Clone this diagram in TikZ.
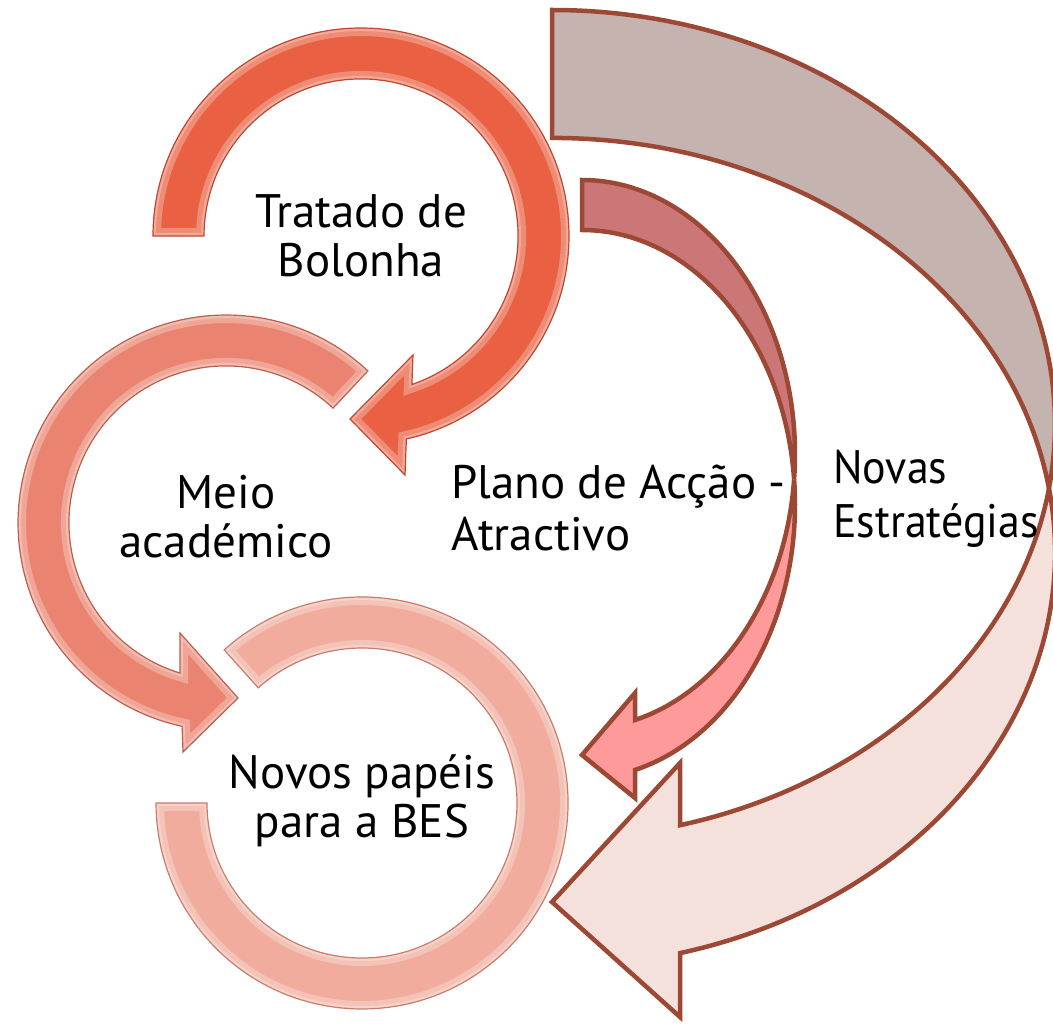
\documentclass[tikz,border=0pt]{standalone}
\usepackage{fontspec}
\setmainfont{PT Sans}
\definecolor{cA}{RGB}{234,96,66}
\definecolor{cAd}{RGB}{190,72,48}
\definecolor{cB}{RGB}{234,132,112}
\definecolor{cBd}{RGB}{190,95,78}
\definecolor{cC}{RGB}{241,172,157}
\definecolor{cCd}{RGB}{200,125,110}
\definecolor{edgec}{RGB}{157,72,52}
\definecolor{bigback}{RGB}{196,179,175}
\definecolor{bigfront}{RGB}{245,225,220}
\definecolor{medback}{RGB}{203,119,119}
\definecolor{medfront}{RGB}{255,154,154}
\tikzset{
  lbl/.style={inner sep=0pt, font=\fontsize{47}{49}\selectfont, text=black},
  flat/.style={draw=edgec, line width=4.5, line join=miter},
}
\newcommand\bevelshape[3]{% path, base colour, dark colour
  \fill[#2] #1;
  \begin{scope}
    \clip #1;
    \draw[white, opacity=.28, line width=16] #1;
    \draw[white, opacity=.25, line width=6] #1;
  \end{scope}
  \draw[#3, line width=1.2] #1;
}
\begin{document}
\begin{tikzpicture}[x=1pt,y=-1pt]
\useasboundingbox (0,0) rectangle (1053,1032);
% ---- circular arrow 3 (Novos papeis) ----
\def\pathC{(224.2,649.9) arc[start angle=228, end angle=540, radius=206] -- (207,803) arc[start angle=540, end angle=228, radius=155] -- cycle}
\bevelshape{\pathC}{cC}{cCd}
% ---- circular arrow 2 (Meio academico) ----
\def\pathB{(367.9,370.9) arc[start angle=313, end angle=102.2, radius=208] -- (183,752) -- (238,698) -- (180,633) -- (180.1,673.1) arc[start angle=107, end angle=313, radius=157] -- cycle}
\bevelshape{\pathB}{cB}{cBd}
% ---- circular arrow 1 (Tratado de Bolonha) ----
\def\pathA{(153,236) arc[start angle=180, end angle=437.4, radius=208] -- (405,475) -- (350,419) -- (413,355) -- (411.9,384.5) arc[start angle=71.1, end angle=-180, radius=157] -- cycle}
\bevelshape{\pathA}{cA}{cAd}
% ---- big curved arrow (Novas Estrategias) ----
\filldraw[flat, fill=bigback] (552,10) arc[start angle=-90, end angle=8.88, x radius=503, y radius=414.4]
  arc[start angle=-8.88, end angle=-90, x radius=503, y radius=414.4] -- cycle;
\filldraw[flat, fill=bigfront] (1049,488.4) arc[start angle=-8.88, end angle=75.26, x radius=503, y radius=414.4]
  -- (680,1017) -- (552,902) -- (680,763) -- (680,825.2)
  arc[start angle=75.26, end angle=8.88, x radius=503, y radius=414.4] -- cycle;
% ---- medium curved arrow (Plano de Accao) ----
\filldraw[flat, fill=medback] (582,180) arc[start angle=-90, end angle=5.23, x radius=213, y radius=274.3]
  arc[start angle=-5.23, end angle=-90, x radius=213, y radius=274.3] -- cycle;
\filldraw[flat, fill=medfront] (794.1,479.3) arc[start angle=-5.23, end angle=75.59, x radius=213, y radius=274.3]
  -- (635,798) -- (582,755) -- (635,693) -- (635,720)
  arc[start angle=75.59, end angle=5.23, x radius=213, y radius=274.3] -- cycle;
% ---- labels (anchor=base is the last line's baseline) ----
\node[lbl, anchor=base, align=center] (tb) at (361,277) {Tratado de\\Bolonha};
\node[lbl, anchor=base, align=center] (ma) at (226,557) {Meio\\académico};
\node[lbl, anchor=base, align=center] (np) at (362,837) {Novos papéis\\para a BES};
\node[lbl, anchor=base west, align=left, font=\fontsize{47}{52}\selectfont] (pa) at (451,550) {Plano de Acção -\\Atractivo};
\node[lbl, anchor=base west, align=left, font=\fontsize{47}{54}\selectfont\addfontfeatures{FakeStretch=0.935}] (ne) at (833,537) {Novas\\Estratégias};
\end{tikzpicture}
\end{document}
